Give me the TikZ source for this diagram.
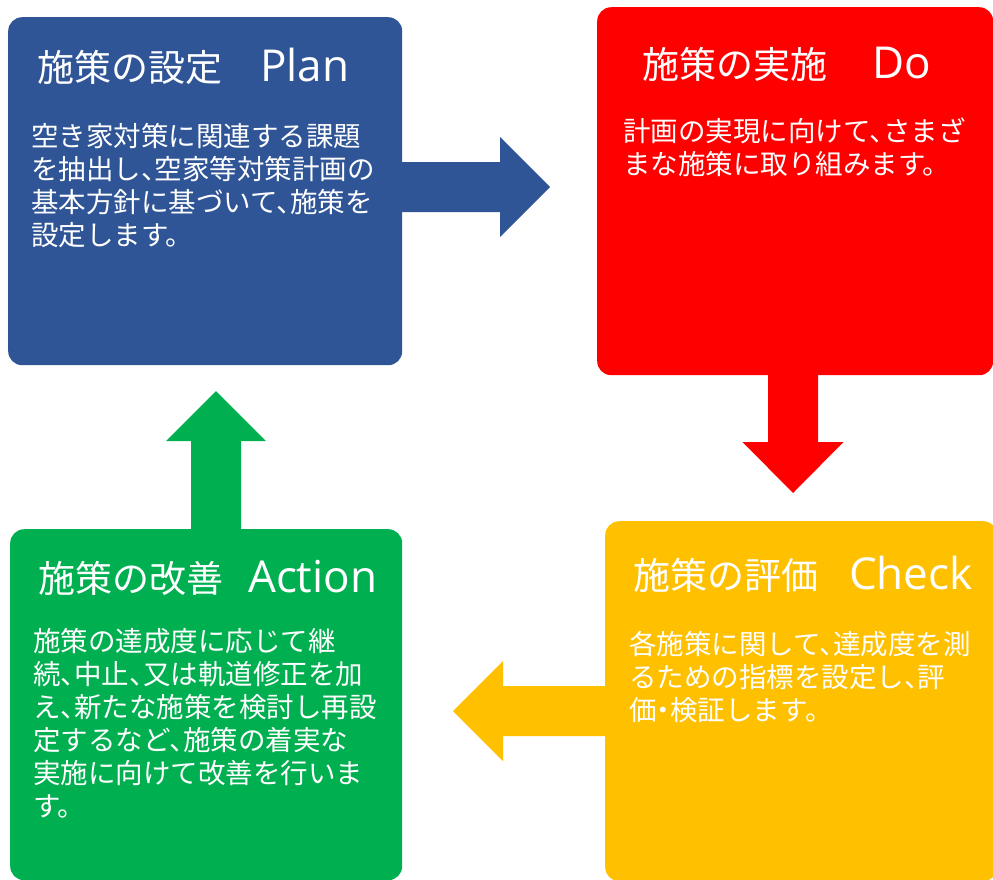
\documentclass[tikz,border=0pt]{standalone}
\usepackage{fontspec}
\newfontfamily\jp{Noto Sans CJK JP}
\newfontfamily\lat{Open Sans}
\definecolor{cplan}{HTML}{2F5597}
\definecolor{cdo}{HTML}{FF0000}
\definecolor{ccheck}{HTML}{FFC000}
\definecolor{cact}{HTML}{00B050}
\newcommand\tc{、\kern-0.5em}
\newcommand\nk{\kern-0.25em・\kern-0.25em}
\begin{document}
\begin{tikzpicture}[x=1pt,y=-1pt,
 box/.style={rectangle, rounded corners=14pt, draw=none, inner sep=0pt, anchor=north west},
 ttl/.style={anchor=base west, inner sep=0pt, text=white, font=\fontsize{37}{40}\selectfont\jp},
 ttle/.style={anchor=base west, inner sep=0pt, text=white, font=\fontsize{44}{48}\selectfont\lat},
 body/.style={anchor=base west, inner sep=0pt, text=white, align=left, font=\fontsize{27.5}{33}\selectfont\jp}]
\clip (0,0) rectangle (993,879);
\fill[white] (0,0) rectangle (993,879);
% boxes
\node[box, fill=cplan, minimum width=394pt, minimum height=348pt] (plan) at (8,17) {};
\node[box, fill=cdo, minimum width=396pt, minimum height=368pt] (do) at (597,7) {};
\node[box, fill=ccheck, minimum width=392pt, minimum height=360pt] (check) at (605,521) {};
\node[box, fill=cact, minimum width=392pt, minimum height=351pt] (act) at (10,529) {};
% arrows
\fill[cplan] (402,162) -- (500,162) -- (500,137) -- (550,187) -- (500,237) -- (500,212) -- (402,212) -- cycle;
\fill[cdo] (768,375) -- (818,375) -- (818,442) -- (843.5,442) -- (793,493) -- (742.5,442) -- (768,442) -- cycle;
\fill[ccheck] (605,686) -- (503,686) -- (503,661) -- (453,711) -- (503,761) -- (503,736) -- (605,736) -- cycle;
\fill[cact] (191,529) -- (241,529) -- (241,441) -- (266,441) -- (216,391) -- (166,441) -- (191,441) -- cycle;
% titles
\node[ttl] (plant) at (37,81) {施策の設定};
\node[ttle] (plane) at (260,81) {Plan};
\node[ttl] (dot) at (642,78) {施策の実施};
\node[ttle] (doe) at (872,78) {Do};
\node[ttl] (checkt) at (633,589) {施策の評価};
\node[ttle] (checke) at (849,589) {Check};
\node[ttl] (actt) at (38,592) {施策の改善};
\node[ttle] (acte) at (248,592) {Action};
% bodies (base anchor = baseline of the last line)
\node[body] (planb) at (31,245) {空き家対策に関連する課題\\を抽出し\tc 空家等対策計画の\\基本方針に基づいて\tc 施策を\\設定します。};
\node[body] (dob) at (623,174) {計画の実現に向けて\tc さまざ\\まな施策に取り組みます。};
\node[body] (checkb) at (629,720) {各施策に関して\tc 達成度を測\\るための指標を設定し\tc 評\\価\nk 検証します。};
\node[body] (actb) at (33,816) {施策の達成度に応じて継\\続\tc 中止\tc 又は軌道修正を加\\え\tc 新たな施策を検討し再設\\定するなど\tc 施策の着実な\\実施に向けて改善を行いま\\す。};
\end{tikzpicture}
\end{document}
